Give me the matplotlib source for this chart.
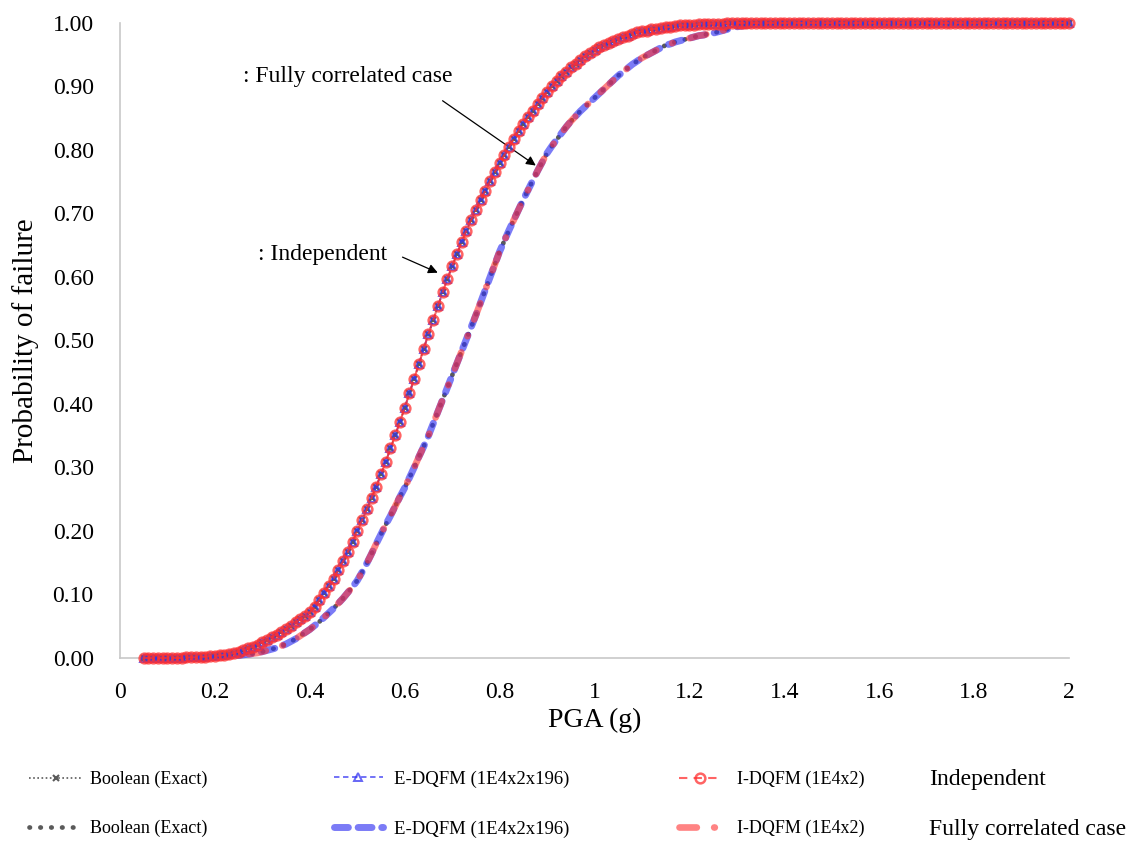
import numpy as np
import matplotlib
matplotlib.use("Agg")
import matplotlib.pyplot as plt

plt.rcParams['font.family'] = ['Liberation Serif', 'DejaVu Serif']

# PGA grid (g): 196 points from 0.05 to 2.00
pga = np.round(np.arange(0.05, 2.0001, 0.01), 2)

# Probability of failure - independent case
p_independent = [
    0.000, 0.000, 0.000, 0.000, 0.000, 0.000, 0.000, 0.000, 0.000, 0.001,
    0.001, 0.001, 0.002, 0.002, 0.003, 0.003, 0.004, 0.005, 0.006, 0.008,
    0.010, 0.012, 0.015, 0.018, 0.021, 0.025, 0.029, 0.033, 0.037, 0.041,
    0.046, 0.051, 0.056, 0.061, 0.066, 0.072, 0.081, 0.091, 0.102, 0.113,
    0.125, 0.138, 0.152, 0.167, 0.183, 0.200, 0.217, 0.234, 0.252, 0.270,
    0.289, 0.309, 0.330, 0.351, 0.372, 0.394, 0.417, 0.440, 0.463, 0.487,
    0.510, 0.532, 0.554, 0.576, 0.597, 0.617, 0.636, 0.655, 0.673, 0.690,
    0.706, 0.721, 0.736, 0.751, 0.765, 0.779, 0.792, 0.805, 0.818, 0.830,
    0.841, 0.852, 0.862, 0.872, 0.882, 0.892, 0.900, 0.908, 0.916, 0.923,
    0.930, 0.936, 0.942, 0.948, 0.953, 0.958, 0.962, 0.965, 0.969, 0.972,
    0.975, 0.978, 0.980, 0.983, 0.985, 0.987, 0.988, 0.990, 0.991, 0.992,
    0.993, 0.994, 0.995, 0.996, 0.996, 0.997, 0.997, 0.998, 0.998, 0.999,
    0.999, 0.999, 0.999, 1.000, 1.000, 1.000, 1.000, 1.000, 1.000, 1.000,
    1.000, 1.000, 1.000, 1.000, 1.000, 1.000, 1.000, 1.000, 1.000, 1.000,
    1.000, 1.000, 1.000, 1.000, 1.000, 1.000, 1.000, 1.000, 1.000, 1.000,
    1.000, 1.000, 1.000, 1.000, 1.000, 1.000, 1.000, 1.000, 1.000, 1.000,
    1.000, 1.000, 1.000, 1.000, 1.000, 1.000, 1.000, 1.000, 1.000, 1.000,
    1.000, 1.000, 1.000, 1.000, 1.000, 1.000, 1.000, 1.000, 1.000, 1.000,
    1.000, 1.000, 1.000, 1.000, 1.000, 1.000, 1.000, 1.000, 1.000, 1.000,
    1.000, 1.000, 1.000, 1.000, 1.000, 1.000,
]

# Probability of failure - fully correlated case
p_correlated = [
    0.000, 0.000, 0.000, 0.000, 0.000, 0.000, 0.000, 0.000, 0.000, 0.000,
    0.000, 0.000, 0.000, 0.001, 0.001, 0.001, 0.002, 0.002, 0.003, 0.003,
    0.004, 0.005, 0.006, 0.007, 0.008, 0.010, 0.012, 0.014, 0.016, 0.019,
    0.022, 0.026, 0.030, 0.035, 0.040, 0.045, 0.051, 0.057, 0.064, 0.071,
    0.078, 0.086, 0.094, 0.103, 0.112, 0.122, 0.135, 0.149, 0.164, 0.180,
    0.195, 0.210, 0.224, 0.239, 0.254, 0.268, 0.284, 0.300, 0.317, 0.333,
    0.350, 0.369, 0.388, 0.407, 0.426, 0.445, 0.464, 0.483, 0.502, 0.521,
    0.540, 0.560, 0.580, 0.600, 0.620, 0.640, 0.657, 0.674, 0.690, 0.706,
    0.722, 0.737, 0.752, 0.767, 0.781, 0.795, 0.806, 0.816, 0.826, 0.836,
    0.845, 0.853, 0.861, 0.868, 0.875, 0.882, 0.889, 0.896, 0.903, 0.910,
    0.917, 0.923, 0.929, 0.935, 0.940, 0.945, 0.949, 0.953, 0.957, 0.961,
    0.965, 0.967, 0.970, 0.972, 0.974, 0.976, 0.978, 0.980, 0.981, 0.983,
    0.984, 0.986, 0.988, 0.990, 0.992, 0.994, 0.995, 0.996, 0.997, 0.998,
    0.998, 0.999, 0.999, 0.999, 1.000, 1.000, 1.000, 1.000, 1.000, 1.000,
    1.000, 1.000, 1.000, 1.000, 1.000, 1.000, 1.000, 1.000, 1.000, 1.000,
    1.000, 1.000, 1.000, 1.000, 1.000, 1.000, 1.000, 1.000, 1.000, 1.000,
    1.000, 1.000, 1.000, 1.000, 1.000, 1.000, 1.000, 1.000, 1.000, 1.000,
    1.000, 1.000, 1.000, 1.000, 1.000, 1.000, 1.000, 1.000, 1.000, 1.000,
    1.000, 1.000, 1.000, 1.000, 1.000, 1.000, 1.000, 1.000, 1.000, 1.000,
    1.000, 1.000, 1.000, 1.000, 1.000, 1.000,
]

x_ticks = [0, 0.2, 0.4, 0.6, 0.8, 1, 1.2, 1.4, 1.6, 1.8, 2]
x_tick_labels = ["0", "0.2", "0.4", "0.6", "0.8", "1", "1.2", "1.4", "1.6", "1.8", "2"]
y_ticks = [0.0, 0.1, 0.2, 0.3, 0.4, 0.5, 0.6, 0.7, 0.8, 0.9, 1.0]

GRAY = "#5a5a5a"
BLUE = "#3434f2"
RED = "#ff3030"

fig = plt.figure(figsize=(11.28, 8.41), dpi=100)
ax = fig.add_axes([0.1064, 0.2176, 0.8413, 0.7551])

# Fully correlated case
l_bc, = ax.plot(pga, p_correlated, color=GRAY, lw=3.4, ls=(0, (0.1, 2.2)),
                dash_capstyle='round', clip_on=False, zorder=3)
l_ec, = ax.plot(pga, p_correlated, color=BLUE, lw=5.0, ls=(0, (2.0, 1.4)),
                alpha=0.65, dash_capstyle='round', clip_on=False, zorder=3)
l_ic, = ax.plot(pga, p_correlated, color=RED, lw=4.8, ls=(0, (2.6, 2.6, 0.1, 2.6)),
                alpha=0.6, dash_capstyle='round', clip_on=False, zorder=3)

# Independent case
l_bi, = ax.plot(pga, p_independent, color=GRAY, lw=1.2, ls=(0, (1, 1.5)),
                marker='x', ms=4.5, mew=1.5, clip_on=False, zorder=4)
l_ei, = ax.plot(pga, p_independent, color=BLUE, lw=1.3, ls=(0, (3, 2)), alpha=0.75,
                marker='^', ms=6, mfc='none', mew=1.4, clip_on=False, zorder=4)
l_ii, = ax.plot(pga, p_independent, color=RED, lw=1.5, ls=(0, (4, 3)), alpha=0.75,
                marker='o', ms=7, mfc='none', mew=1.8, clip_on=False, zorder=5)

ax.set_xlim(0, 2)
ax.set_ylim(0, 1)
ax.set_xticks(x_ticks)
ax.set_xticklabels(x_tick_labels)
ax.set_yticks(y_ticks)
ax.set_yticklabels([f"{v:.2f}" for v in y_ticks])
ax.tick_params(axis='both', length=0, labelsize=17, colors='black')
ax.tick_params(axis='x', pad=17)
ax.tick_params(axis='y', pad=19)
for s in ['top', 'right']:
    ax.spines[s].set_visible(False)
for s in ['left', 'bottom']:
    ax.spines[s].set_color('#c8c8c8')
    ax.spines[s].set_linewidth(1.2)

ax.set_xlabel("PGA (g)", fontsize=20, labelpad=4)
ax.set_ylabel("Probability of failure", fontsize=21, labelpad=10)

# annotations
ax.text(0.259, 0.915, ": Fully correlated case", fontsize=17, ha='left', va='center')
ax.annotate("", xy=(0.881, 0.773), xytext=(0.675, 0.880),
            arrowprops=dict(arrowstyle='-|>', color='black', lw=0.9, mutation_scale=14))
ax.text(0.291, 0.636, ": Independent", fontsize=17, ha='left', va='center')
ax.annotate("", xy=(0.675, 0.605), xytext=(0.590, 0.633),
            arrowprops=dict(arrowstyle='-|>', color='black', lw=0.9, mutation_scale=14))

# legends
leg_kw = dict(loc='center left', frameon=False, labelspacing=1.75,
              borderaxespad=0, borderpad=0)
cy = 1 - 804 / 841
lg1 = fig.legend([l_bi, l_bc], ["Boolean (Exact)", "Boolean (Exact)"],
                 bbox_to_anchor=(0.026, cy), fontsize=13, handlelength=3.0,
                 handletextpad=0.35, **leg_kw)
lg2 = fig.legend([l_ei, l_ec], ["E-DQFM (1E4x2x196)", "E-DQFM (1E4x2x196)"],
                 bbox_to_anchor=(0.296, cy), fontsize=13.5, handlelength=2.6,
                 handletextpad=0.6, **leg_kw)
lg3 = fig.legend([l_ii, l_ic], ["I-DQFM (1E4x2)", "I-DQFM (1E4x2)"],
                 bbox_to_anchor=(0.602, cy), fontsize=13, handlelength=2.3,
                 handletextpad=0.9, **leg_kw)
for lg in (lg1, lg2, lg3):
    for h in lg.legend_handles:
        h.set_markevery([1])

fig.text(0.824, 1 - 779 / 841, "Independent", fontsize=17, ha='left', va='center')
fig.text(0.824, 1 - 829 / 841, "Fully correlated case", fontsize=17, ha='left', va='center')

fig.savefig("out.png", dpi=100)
